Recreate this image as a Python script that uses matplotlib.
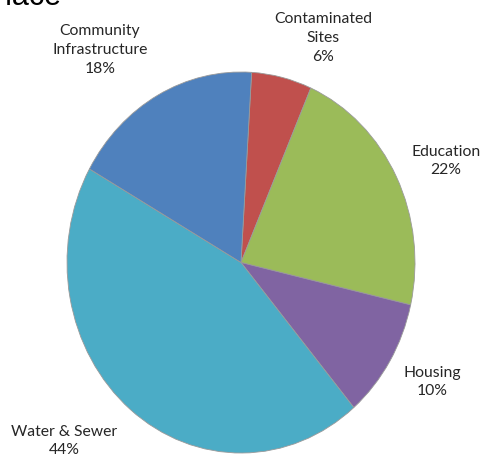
import matplotlib
matplotlib.use("Agg")
import matplotlib.pyplot as plt

# ---- 데이터 -----------------------------------------------------------
categories = ["Contaminated\nSites", "Education", "Housing",
              "Water & Sewer", "Community\nInfrastructure"]
shares = [5.6, 22.0, 10.2, 44.4, 17.8]
colors = ["#C0504D", "#9BBB59", "#8064A2", "#4BACC6", "#4F81BD"]

# label centres in pixels (x from left, y from top)
label_px = [(323, 38), (446, 161), (432, 382), (64, 441), (100, 50)]

W, H = 482, 461
plt.rcParams["font.family"] = ["Lato", "DejaVu Sans"]

fig = plt.figure(figsize=(W / 100, H / 100), dpi=100)

# pie drawn slightly taller than wide, like the source
ax = fig.add_axes([67 / W, (H - 453) / H, 348 / W, 381 / H])
ax.pie(shares, colors=colors, startangle=86.5, counterclock=False,
       wedgeprops=dict(edgecolor="#9a9a9a", linewidth=0.6))
ax.set_aspect("auto")
ax.set_xlim(-1, 1)
ax.set_ylim(-1, 1)
ax.axis("off")

for name, val, (px, py) in zip(categories, shares, label_px):
    fig.text(px / W, 1 - py / H, f"{name}\n{val:.0f}%", ha="center",
             va="center", fontsize=11.3, color="#262626", linespacing=1.45)

# cut-off title fragment at the very top (clipped in the source too)
fig.text(61 / W, 1 - 5 / H, "Place", ha="right", va="baseline",
         fontsize=22, family="Liberation Sans", color="black")

fig.savefig("out.png", dpi=100)
